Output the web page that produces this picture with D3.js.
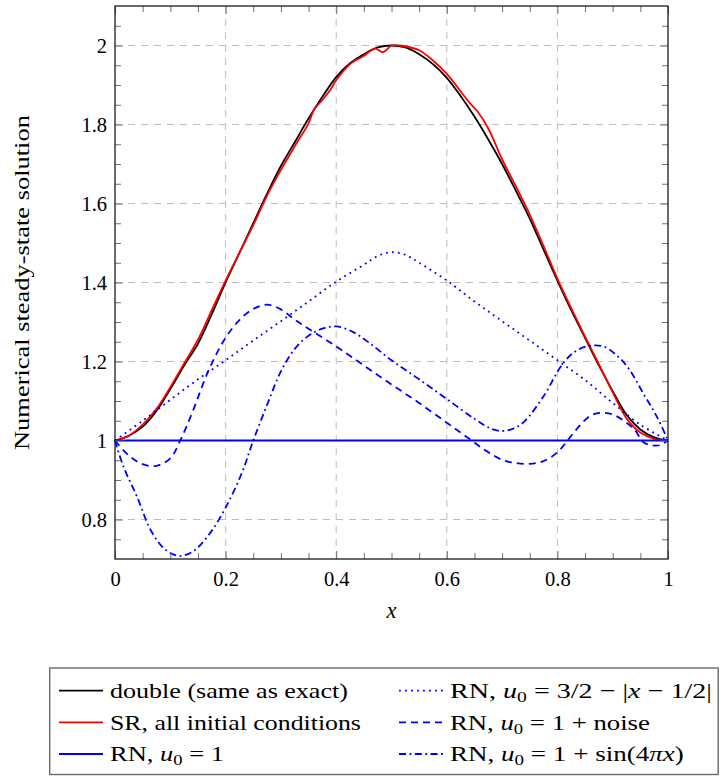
<!DOCTYPE html>
<html><head><meta charset="utf-8">
<script src="https://cdn.jsdelivr.net/npm/d3@7"></script>
<style>
body{margin:0;background:#fff}
svg text{font-family:"Liberation Serif","DejaVu Serif","Noto Serif","Times New Roman",serif;fill:#000}
</style>
</head><body>
<svg id="c" width="726" height="776"></svg>
<script>
// ---------- data ----------
const xDouble = [0,0.025,0.05,0.075,0.1,0.125,0.15,0.175,0.2,0.225,0.25,0.275,0.3,0.325,0.35,0.375,0.4,0.425,0.45,0.475,0.5,0.525,0.55,0.575,0.6,0.625,0.65,0.675,0.7,0.725,0.75,0.775,0.8,0.825,0.85,0.875,0.9,0.925,0.95,0.975,1];
const yDouble = [1.000,1.012,1.035,1.075,1.13,1.19,1.245,1.32,1.40,1.475,1.55,1.625,1.695,1.755,1.815,1.87,1.92,1.955,1.978,1.995,2.0,1.995,1.978,1.953,1.918,1.872,1.82,1.762,1.700,1.632,1.562,1.483,1.405,1.33,1.26,1.19,1.125,1.065,1.028,1.008,1.0];

const xSR = [0,0.025,0.05,0.075,0.1,0.125,0.15,0.175,0.2,0.225,0.25,0.275,0.3,0.325,0.35,0.36,0.375,0.39,0.4,0.425,0.45,0.47,0.485,0.5,0.515,0.55,0.575,0.6,0.625,0.64,0.655,0.675,0.7,0.725,0.75,0.775,0.8,0.825,0.85,0.875,0.9,0.925,0.95,0.975,1];
const ySR = [1.0,1.012,1.04,1.08,1.135,1.195,1.255,1.33,1.405,1.475,1.545,1.62,1.685,1.745,1.803,1.838,1.862,1.889,1.912,1.953,1.974,1.992,1.983,2.0,2.0,1.988,1.962,1.928,1.884,1.857,1.834,1.79,1.712,1.643,1.572,1.492,1.41,1.335,1.263,1.193,1.122,1.056,1.02,1.004,1.0];

const xRN1 = [0,1];
const yRN1 = [1,1];

const xTent = [0,0.05,0.1,0.15,0.2,0.25,0.3,0.35,0.4,0.45,0.475,0.5,0.525,0.55,0.6,0.65,0.7,0.75,0.8,0.85,0.9,0.95,1];
const yTent = [1.0,1.05,1.103,1.155,1.203,1.253,1.302,1.352,1.402,1.445,1.467,1.477,1.47,1.45,1.405,1.352,1.302,1.253,1.203,1.153,1.095,1.04,1.0];

const xNoise = [0,0.025,0.05,0.075,0.1,0.118,0.14,0.17,0.2,0.225,0.25,0.275,0.3,0.325,0.35,0.4,0.45,0.5,0.55,0.6,0.64,0.67,0.7,0.725,0.75,0.775,0.8,0.82,0.84,0.86,0.88,0.9,0.92,0.94,0.955,0.97,0.985,1];
const yNoise = [1.0,0.962,0.94,0.936,0.955,1.0,1.072,1.18,1.26,1.305,1.333,1.344,1.332,1.306,1.283,1.238,1.19,1.142,1.095,1.045,1.005,0.975,0.951,0.943,0.941,0.948,0.97,1.003,1.037,1.063,1.07,1.066,1.05,1.027,0.996,0.988,0.988,1.0];

const xSin = [0,0.015,0.04,0.065,0.09,0.115,0.14,0.17,0.2,0.23,0.25,0.275,0.3,0.325,0.35,0.375,0.4,0.43,0.46,0.5,0.55,0.6,0.65,0.68,0.7,0.72,0.74,0.775,0.81,0.835,0.86,0.885,0.91,0.93,0.955,0.98,1];
const ySin = [1.0,0.935,0.857,0.772,0.725,0.708,0.718,0.762,0.83,0.92,1.0,1.09,1.175,1.232,1.265,1.283,1.289,1.275,1.247,1.203,1.155,1.105,1.055,1.03,1.024,1.03,1.048,1.112,1.195,1.228,1.24,1.237,1.212,1.18,1.12,1.06,1.0];

const xTickValues = [0,0.2,0.4,0.6,0.8,1];
const xTickLabels = ["0","0.2","0.4","0.6","0.8","1"];
const yTickValues = [0.8,1,1.2,1.4,1.6,1.8,2];
const yTickLabels = ["0.8","1","1.2","1.4","1.6","1.8","2"];
const xMinor = [0.05,0.1,0.15,0.25,0.3,0.35,0.45,0.5,0.55,0.65,0.7,0.75,0.85,0.9,0.95];
const yMinor = [0.75,0.85,0.9,0.95,1.05,1.1,1.15,1.25,1.3,1.35,1.45,1.5,1.55,1.65,1.7,1.75,1.85,1.9,1.95,2.05];
const xTitle = "x";
const yTitle = "Numerical steady-state solution";

// ---------- layout ----------
const L = 115, R = 668, T = 6, B = 559;
const svg = d3.select("#c");
const x = d3.scaleLinear().domain([0,1]).range([L,R]);
const y = d3.scaleLinear().domain([0.7,2.1]).range([B,T]);
const FS_TICK = 20.5, FS_TXT = 21.5;

// squeeze/stretch a text horizontally to a target width (layout only)
function fitWidth(sel, x0, target){
  const w = sel.node().getComputedTextLength();
  if(w>0){ const k = target/w; sel.attr("transform",`translate(${x0},0) scale(${k},1) translate(${-x0},0)`); }
}

// grid
const grid = svg.append("g").attr("stroke","#bdbdbd").attr("stroke-width",1).attr("stroke-dasharray","7,6");
grid.selectAll(".gx").data(xTickValues.filter(v=>v>0&&v<1)).join("line")
  .attr("x1",d=>x(d)).attr("x2",d=>x(d)).attr("y1",B).attr("y2",T);
grid.selectAll(".gy").data(yTickValues).join("line")
  .attr("y1",d=>y(d)).attr("y2",d=>y(d)).attr("x1",L).attr("x2",R);

// series
const series = [
  {xs:xDouble, ys:yDouble, color:"#000", dash:null},
  {xs:xSR, ys:ySR, color:"#f00", dash:null},
  {xs:xRN1, ys:yRN1, color:"#00f", dash:null},
  {xs:xTent, ys:yTent, color:"#00f", dash:"1.8,4.2"},
  {xs:xNoise, ys:yNoise, color:"#00f", dash:"7,5"},
  {xs:xSin, ys:ySin, color:"#00f", dash:"7,3.5,1.8,3.5"}
];
const line = d3.line().x(d=>x(d[0])).y(d=>y(d[1])).curve(d3.curveCatmullRom.alpha(0.5));
const plot = svg.append("g");
series.forEach(s=>{
  const pts = s.xs.map((v,i)=>[v,s.ys[i]]);
  plot.append("path").datum(pts).attr("d",line)
    .attr("fill","none").attr("stroke",s.color).attr("stroke-width",1.8)
    .attr("stroke-dasharray",s.dash);
});

// axes with inward ticks
function styleAxis(g){ g.attr("font-family",null); g.select(".domain").remove(); g.selectAll(".tick line").attr("stroke","#707070").attr("stroke-width",1); }
const fmtX = d=>xTickLabels[xTickValues.indexOf(d)];
const fmtY = d=>yTickLabels[yTickValues.indexOf(d)];
const axB = svg.append("g").attr("transform",`translate(0,${B})`)
  .call(d3.axisBottom(x).tickValues(xTickValues).tickFormat(fmtX).tickSizeInner(-8).tickSizeOuter(0).tickPadding(0));
axB.call(styleAxis); axB.selectAll("text").attr("font-size",FS_TICK).attr("y",26.5).attr("dy",null);
svg.append("g").attr("transform",`translate(0,${B})`).call(d3.axisBottom(x).tickValues(xMinor).tickFormat("").tickSizeInner(-6).tickSizeOuter(0)).call(styleAxis);
svg.append("g").attr("transform",`translate(0,${T})`).call(d3.axisTop(x).tickValues(xTickValues).tickFormat("").tickSizeInner(-8).tickSizeOuter(0)).call(styleAxis);
svg.append("g").attr("transform",`translate(0,${T})`).call(d3.axisTop(x).tickValues(xMinor).tickFormat("").tickSizeInner(-6).tickSizeOuter(0)).call(styleAxis);
const axL = svg.append("g").attr("transform",`translate(${L},0)`)
  .call(d3.axisLeft(y).tickValues(yTickValues).tickFormat(fmtY).tickSizeInner(-8).tickSizeOuter(0).tickPadding(0));
axL.call(styleAxis); axL.selectAll("text").attr("font-size",FS_TICK).attr("x",-8).attr("dy","0.36em");
svg.append("g").attr("transform",`translate(${L},0)`).call(d3.axisLeft(y).tickValues(yMinor).tickFormat("").tickSizeInner(-6).tickSizeOuter(0)).call(styleAxis);
svg.append("g").attr("transform",`translate(${R},0)`).call(d3.axisRight(y).tickValues(yTickValues).tickFormat("").tickSizeInner(-8).tickSizeOuter(0)).call(styleAxis);
svg.append("g").attr("transform",`translate(${R},0)`).call(d3.axisRight(y).tickValues(yMinor).tickFormat("").tickSizeInner(-6).tickSizeOuter(0)).call(styleAxis);

// frame
svg.append("rect").attr("x",L).attr("y",T).attr("width",R-L).attr("height",B-T)
  .attr("fill","none").attr("stroke","#1a1a1a").attr("stroke-width",1.3);

// axis titles
svg.append("text").attr("x",(L+R)/2).attr("y",618).attr("text-anchor","middle")
  .attr("font-size",FS_TXT+1).attr("font-style","italic").text(xTitle);
const yt = svg.append("g").attr("transform",`translate(28.5,${(T+B)/2}) rotate(-90)`)
  .append("text").attr("x",-167.5).attr("y",0).attr("font-size",FS_TXT).text(yTitle);
fitWidth(yt, -167.5, 335);

// legend
const leg = svg.append("g");
leg.append("rect").attr("x",49.7).attr("y",668).attr("width",668.5).attr("height",106.5)
  .attr("fill","#fff").attr("stroke","#6a6a6a").attr("stroke-width",1.4);
const legendLabels = [
  [{t:"double (same as exact)"}],
  [{t:"RN, "},{t:"u",i:1},{t:"0",s:1},{t:" = 3/2 − |"},{t:"x",i:1},{t:" − 1/2|"}],
  [{t:"SR, all initial conditions"}],
  [{t:"RN, "},{t:"u",i:1},{t:"0",s:1},{t:" = 1 + noise"}],
  [{t:"RN, "},{t:"u",i:1},{t:"0",s:1},{t:" = 1"}],
  [{t:"RN, "},{t:"u",i:1},{t:"0",s:1},{t:" = 1 + sin(4"},{t:"π",i:1},{t:"x",i:1},{t:")"}]
];
const legendWidths = [238,262,251,200,114,234];
const legendSeries = [0,3,1,4,2,5];
const rowY = [690.7,722.3,754];
const colLine = [[59,103],[399,444.5]];
const colText = [110,450];
legendSeries.forEach((si,k)=>{
  const r = Math.floor(k/2), c = k%2, s = series[si];
  leg.append("line").attr("x1",colLine[c][0]).attr("x2",colLine[c][1]).attr("y1",rowY[r]).attr("y2",rowY[r])
    .attr("stroke",s.color).attr("stroke-width",1.8).attr("stroke-dasharray",s.dash);
  const tx = leg.append("text").attr("x",colText[c]).attr("y",rowY[r]+7.5).attr("font-size",FS_TXT);
  let sub = false;
  legendLabels[k].forEach(seg=>{
    const sp = tx.append("tspan").text(seg.t);
    if(seg.i) sp.attr("font-style","italic");
    if(seg.s){ sp.attr("font-size",FS_TXT*0.7).attr("dy",4); sub=true; }
    else if(sub){ sp.attr("dy",-4); sub=false; }
  });
  fitWidth(tx, colText[c], legendWidths[k]);
});
</script>
</body></html>
